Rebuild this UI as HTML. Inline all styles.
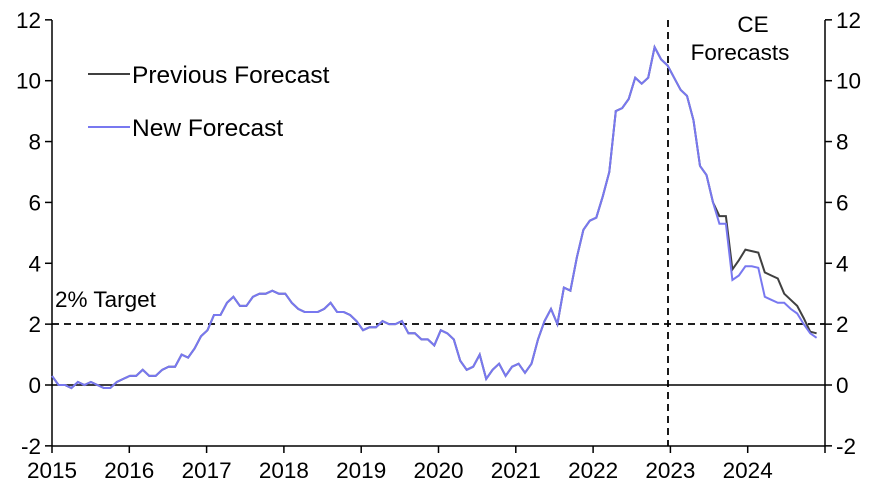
<!DOCTYPE html>
<html><head><meta charset="utf-8"><style>
body{margin:0;background:#fff}
text{font-family:"Liberation Sans",sans-serif;font-size:22.5px;fill:#000}
.lg{font-size:24.5px}
</style></head><body>
<svg id="s" width="878" height="490" xmlns="http://www.w3.org/2000/svg"></svg>
<script>
const hist=[0.3,0.0,0.0,-0.1,0.1,0.0,0.1,0.0,-0.1,-0.1,0.1,0.2,
0.3,0.3,0.5,0.3,0.3,0.5,0.6,0.6,1.0,0.9,1.2,1.6,
1.8,2.3,2.3,2.7,2.9,2.6,2.6,2.9,3.0,3.0,3.1,3.0,
3.0,2.7,2.5,2.4,2.4,2.4,2.5,2.7,2.4,2.4,2.3,2.1,
1.8,1.9,1.9,2.1,2.0,2.0,2.1,1.7,1.7,1.5,1.5,1.3,
1.8,1.7,1.5,0.8,0.5,0.6,1.0,0.2,0.5,0.7,0.3,0.6,
0.7,0.4,0.7,1.5,2.1,2.5,2.0,3.2,3.1,4.2,5.1,5.4,
5.5,6.2,7.0,9.0,9.1,9.4,10.1,9.9,10.1,11.1,10.7,10.5,
10.1,9.7,9.5,8.7,7.2,6.9,6.0];
const prevF=[5.55,5.55,3.8,4.1,4.45,4.4,4.35,3.7,3.6,3.5,3.0,2.8,2.6,2.2,1.75,1.7];
const newF=[5.3,5.3,3.45,3.6,3.9,3.9,3.85,2.9,2.8,2.7,2.7,2.5,2.35,2.0,1.7,1.55];
const X=i=>52+i*6.48, Y=v=>385-v*30.43;
let s='';
s+='<line x1="52" y1="20" x2="52" y2="446" stroke="#000" stroke-width="1.5"/>';
s+='<line x1="825" y1="20" x2="825" y2="446" stroke="#000" stroke-width="1.5"/>';
s+='<line x1="52" y1="385" x2="825" y2="385" stroke="#000" stroke-width="1.5"/>';
s+='<line x1="52" y1="446" x2="825" y2="446" stroke="#000" stroke-width="1.5"/>';
for(let v=-2;v<=12;v+=2){const y=Y(v);
s+=`<line x1="45" y1="${y}" x2="52" y2="${y}" stroke="#000" stroke-width="1.5"/><line x1="825" y1="${y}" x2="832" y2="${y}" stroke="#000" stroke-width="1.5"/>`;
s+=`<text x="41" y="${y+8}" text-anchor="end">${v}</text><text x="836" y="${y+8}">${v}</text>`;}
for(let k=0;k<=10;k++){const x=52+k*77.3;
s+=`<line x1="${x}" y1="446" x2="${x}" y2="453" stroke="#000" stroke-width="1.5"/>`;
if(k<10)s+=`<text x="${x}" y="478" text-anchor="middle">${2015+k}</text>`;}
s+='<line x1="52" y1="324" x2="825" y2="324" stroke="#000" stroke-width="1.8" stroke-dasharray="7,5"/>';
s+='<line x1="668" y1="20" x2="668" y2="446" stroke="#000" stroke-width="1.8" stroke-dasharray="7,5"/>';
s+='<text x="55" y="307">2% Target</text>';
s+='<text x="753" y="32" text-anchor="middle">CE</text><text x="740" y="60" text-anchor="middle">Forecasts</text>';
const pts=a=>a.map((v,i)=>X(i).toFixed(1)+','+Y(v).toFixed(1)).join(' ');
const p=hist.concat(prevF), n=hist.concat(newF);
s+=`<polyline points="${pts(p)}" fill="none" stroke="#404040" stroke-width="2"/>`;
s+=`<polyline points="${pts(n)}" fill="none" stroke="#7878f0" stroke-width="2"/>`;
s+='<line x1="88" y1="74" x2="130" y2="74" stroke="#404040" stroke-width="2"/><text class="lg" x="132" y="83">Previous Forecast</text>';
s+='<line x1="88" y1="127" x2="130" y2="127" stroke="#7878f0" stroke-width="2"/><text class="lg" x="132" y="136">New Forecast</text>';
document.getElementById('s').innerHTML=s;
</script>
</body></html>
